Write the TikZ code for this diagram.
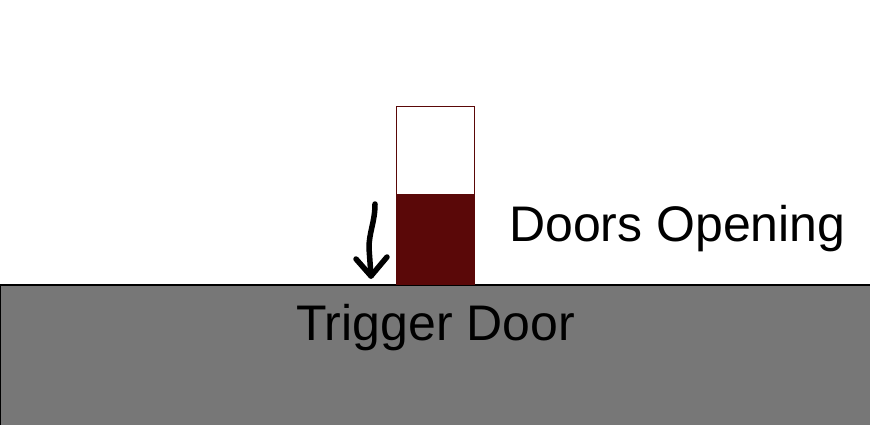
\documentclass[tikz,border=0pt]{standalone}
\usepackage{fontspec}
\setmainfont{Liberation Sans}
\usepackage{xcolor}
\usetikzlibrary{positioning}
\definecolor{slab}{HTML}{777777}
\definecolor{maroon}{HTML}{5A0808}

\begin{document}
\begin{tikzpicture}[
  x=1pt,y=-1pt,
  ground/.style={fill=slab,inner sep=0pt,minimum width=900pt,minimum height=160pt},
  edge/.style={draw=black,line width=2pt},
  frame/.style={draw=maroon,line width=1.2pt,fill=white,inner sep=0pt,minimum width=78pt,minimum height=178pt},
  fillpart/.style={draw=maroon,line width=1.2pt,fill=maroon,inner sep=0pt,minimum width=78pt,minimum height=90pt},
  label/.style={inner sep=0pt,font=\fontsize{50}{60}\selectfont},
  stroke/.style={line width=5.5pt,line cap=round,line join=round}
]
\useasboundingbox (0,0) rectangle (870,425);
\clip (0,0) rectangle (870,425);
\fill[white] (0,0) rectangle (870,425);
\node[ground,anchor=north west] (floor) at (0,285) {};
\draw[edge] (floor.south west) -- (floor.north west) -- (floor.north east);
\node[frame,anchor=south west] (door) at (396,285) {};
\node[fillpart,anchor=south west] (level) at (396,285) {};
\node[label,anchor=base west] (opening) at (509,241) {Doors Opening};
\node[label,anchor=base west] (trigger) at (296,340) {Trigger Door};
% hand drawn arrow
\coordinate (tail) at (375,204);
\coordinate (tip) at (371,276);
\coordinate (lwing) at (356,259);
\coordinate (rwing) at (387,257);
\draw[stroke] (tail) .. controls (375,222) and (369,232) .. (369,248) -- (tip);
\draw[stroke] (lwing) -- (tip) -- (rwing);
\end{tikzpicture}
\end{document}
